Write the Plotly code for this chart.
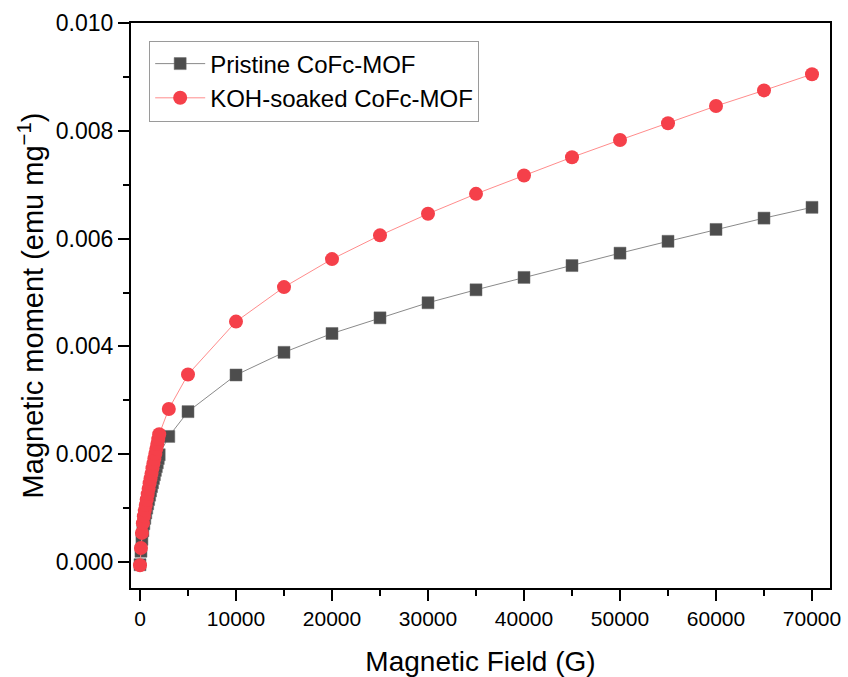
import plotly.graph_objects as go

# Field sweep (G): dense low-field steps, then 1 kG / 5 kG steps
field = [0, 100, 200, 300, 400, 500, 600, 700, 800, 900, 1000,
         1100, 1200, 1300, 1400, 1500, 1600, 1700, 1800, 1900, 2000,
         3000, 5000, 10000, 15000, 20000, 25000, 30000, 35000,
         40000, 45000, 50000, 55000, 60000, 65000, 70000]

# Magnetic moment (emu mg^-1)
pristine = [-0.00005, 0.00020, 0.00042, 0.00058, 0.00071, 0.00081, 0.00091,
            0.00100, 0.00108, 0.00116, 0.00124, 0.00132, 0.00140, 0.00147,
            0.00155, 0.00162, 0.00170, 0.00177, 0.00184, 0.00192, 0.00199,
            0.00233, 0.00279, 0.00347, 0.00389, 0.00424, 0.00453, 0.00481,
            0.00505, 0.00528, 0.00550, 0.00573, 0.00595, 0.00617, 0.00638,
            0.00658]
koh_soaked = [-0.00006, 0.00026, 0.00054, 0.00072, 0.00085, 0.00096, 0.00106,
              0.00116, 0.00126, 0.00136, 0.00146, 0.00155, 0.00164, 0.00174,
              0.00183, 0.00192, 0.00201, 0.00210, 0.00219, 0.00228, 0.00237,
              0.00284, 0.00348, 0.00446, 0.00510, 0.00562, 0.00606, 0.00646,
              0.00683, 0.00717, 0.00751, 0.00783, 0.00814, 0.00846, 0.00875,
              0.00905]

series_names = ["Pristine CoFc-MOF", "KOH-soaked CoFc-MOF"]

FONT = "Liberation Sans, Arial, sans-serif"

fig = go.Figure()
fig.add_trace(go.Scatter(
    x=field, y=pristine, name=series_names[0], mode="lines+markers",
    line=dict(color="#8a8a8a", width=1),
    marker=dict(symbol="square", size=12, color="#4d4d4d",
                line=dict(color="#6a6a6a", width=0.5)),
))
fig.add_trace(go.Scatter(
    x=field, y=koh_soaked, name=series_names[1], mode="lines+markers",
    line=dict(color="#ff8c8c", width=1),
    marker=dict(symbol="circle", size=14, color="#f5404a",
                line=dict(color="#f5404a", width=0)),
))

fig.update_layout(
    width=848, height=677,
    margin=dict(l=131, r=18, t=23, b=89),
    paper_bgcolor="white", plot_bgcolor="white",
    font=dict(family=FONT, color="black"),
    showlegend=True,
    legend=dict(
        x=0.026, y=0.969, xanchor="left", yanchor="top",
        bgcolor="white", bordercolor="#9a9a9a", borderwidth=1,
        font=dict(family=FONT, size=24, color="black"),
        itemwidth=50, tracegroupgap=0,
    ),
)

fig.update_xaxes(
    range=[-937, 71875], automargin=False,
    showgrid=False, zeroline=False,
    showline=True, linecolor="black", linewidth=2, mirror=True,
    ticks="outside", ticklen=11, tickwidth=2, tickcolor="black",
    dtick=10000, tick0=0, tickformat="d",
    tickfont=dict(family=FONT, size=21, color="black"),
    minor=dict(ticks="outside", ticklen=6, tickwidth=2, tickcolor="black",
               dtick=5000, tick0=0),
    title=dict(text="Magnetic Field (G)", standoff=24,
               font=dict(family=FONT, size=28, color="black")),
)

fig.update_yaxes(
    range=[-0.000482, 0.010], automargin=False,
    showgrid=False, zeroline=False,
    showline=True, linecolor="black", linewidth=2, mirror=True,
    ticks="outside", ticklen=11, tickwidth=2, tickcolor="black",
    dtick=0.002, tick0=0, tickformat=".3f",
    tickfont=dict(family=FONT, size=23, color="black"),
    minor=dict(ticks="outside", ticklen=6, tickwidth=2, tickcolor="black",
               dtick=0.001, tick0=0),
    title=dict(text="Magnetic moment (emu mg<sup>−1</sup>)", standoff=4,
               font=dict(family=FONT, size=29, color="black")),
)

fig.write_html("out.html")
